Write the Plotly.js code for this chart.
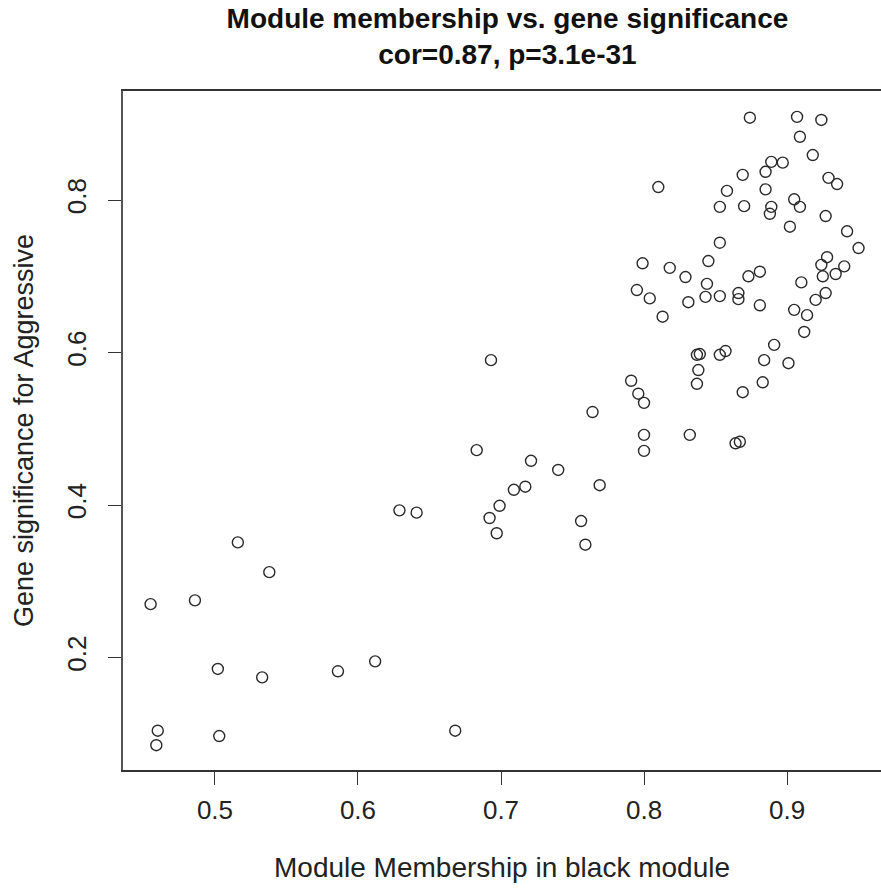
<!DOCTYPE html>
<html>
<head>
<meta charset="utf-8">
<script src="https://cdn.plot.ly/plotly-3.0.1.min.js"></script>
<style>html,body{margin:0;padding:0;background:#fff;}#chart{width:881px;height:890px;}</style>
</head>
<body>
<div id="chart"></div>
<script>
// Module membership (x) and gene significance (y)
const moduleMembership = [
  0.874, 0.907, 0.924, 0.909, 0.918, 0.889, 0.897, 0.869, 0.885, 0.929,
  0.935, 0.810, 0.858, 0.885, 0.853, 0.870, 0.889, 0.888, 0.905, 0.909,
  0.927, 0.902, 0.942, 0.853, 0.950, 0.799, 0.845, 0.818, 0.928, 0.924,
  0.940, 0.829, 0.873, 0.881, 0.910, 0.934, 0.925, 0.795, 0.844, 0.804,
  0.831, 0.853, 0.843, 0.866, 0.866, 0.881, 0.927, 0.920, 0.905, 0.914,
  0.813, 0.912, 0.891, 0.837, 0.839, 0.853, 0.857, 0.884, 0.838, 0.901,
  0.837, 0.883, 0.869, 0.832, 0.864, 0.867, 0.800, 0.800, 0.791, 0.796,
  0.800, 0.764, 0.693, 0.683, 0.721, 0.740, 0.769, 0.717, 0.709, 0.699,
  0.692, 0.697, 0.756, 0.759, 0.629, 0.641, 0.516, 0.538, 0.455, 0.486,
  0.502, 0.533, 0.586, 0.612, 0.460, 0.459, 0.503, 0.668
];
const geneSignificance = [
  0.908, 0.909, 0.905, 0.883, 0.859, 0.850, 0.849, 0.833, 0.837, 0.829,
  0.821, 0.817, 0.812, 0.814, 0.791, 0.792, 0.791, 0.782, 0.801, 0.791,
  0.779, 0.765, 0.759, 0.744, 0.737, 0.717, 0.720, 0.711, 0.725, 0.715,
  0.713, 0.699, 0.700, 0.706, 0.692, 0.703, 0.700, 0.682, 0.690, 0.671,
  0.666, 0.674, 0.673, 0.678, 0.670, 0.662, 0.678, 0.669, 0.656, 0.649,
  0.647, 0.627, 0.610, 0.597, 0.598, 0.597, 0.602, 0.590, 0.577, 0.586,
  0.559, 0.561, 0.548, 0.492, 0.481, 0.483, 0.492, 0.471, 0.563, 0.546,
  0.534, 0.522, 0.590, 0.472, 0.458, 0.446, 0.426, 0.424, 0.420, 0.399,
  0.383, 0.363, 0.379, 0.348, 0.393, 0.390, 0.351, 0.312, 0.270, 0.275,
  0.185, 0.174, 0.182, 0.195, 0.104, 0.085, 0.097, 0.104
];
const xTicks = [0.5, 0.6, 0.7, 0.8, 0.9];
const yTicks = [0.2, 0.4, 0.6, 0.8];
const titleLines = ['Module membership vs. gene significance', 'cor=0.87, p=3.1e-31'];
const xTitle = 'Module Membership in black module';
const yTitle = 'Gene significance for Aggressive';

const FONT = '"Liberation Sans", Arial, Helvetica, sans-serif';

const trace = {
  type: 'scatter',
  mode: 'markers',
  x: moduleMembership,
  y: geneSignificance,
  marker: {symbol: 'circle-open', size: 11, color: '#2a2a2a', line: {width: 1.4, color: '#2a2a2a'}},
  hoverinfo: 'x+y'
};

const layout = {
  width: 881,
  height: 890,
  margin: {l: 123, r: 0, t: 91, b: 120, pad: 0},
  paper_bgcolor: '#ffffff',
  plot_bgcolor: '#ffffff',
  showlegend: false,
  title: {
    text: titleLines.join('<br>'),
    font: {family: FONT, size: 28, color: '#111', weight: 700},
    xref: 'container', x: 0.576, xanchor: 'center',
    yref: 'container', y: 0.969, yanchor: 'top'
  },
  xaxis: {
    range: [0.4357, 0.9657],
    tickvals: xTicks,
    ticktext: xTicks.map(v => v.toFixed(1)),
    ticks: 'outside', ticklen: 13, tickwidth: 1.3, tickcolor: '#333',
    showline: true, linecolor: '#333', linewidth: 1.6, mirror: true,
    showgrid: false, zeroline: false,
    tickfont: {family: FONT, size: 26, color: '#222'},
    ticklabelstandoff: 3,
    title: {text: xTitle, font: {family: FONT, size: 28, color: '#222'}, standoff: 33}
  },
  yaxis: {
    range: [0.0525, 0.943],
    tickvals: yTicks,
    ticktext: yTicks.map(v => v.toFixed(1)),
    ticks: 'outside', ticklen: 13, tickwidth: 1.3, tickcolor: '#333',
    showline: true, linecolor: '#555', linewidth: 1.6, mirror: false,
    showgrid: false, zeroline: false,
    tickangle: -90,
    tickfont: {family: FONT, size: 26, color: '#222'},
    ticklabelstandoff: 12,
    title: {text: yTitle, font: {family: FONT, size: 27, color: '#222'}, standoff: 20}
  }
};

Plotly.newPlot('chart', [trace], layout, {displayModeBar: false, responsive: false});
</script>
</body>
</html>
